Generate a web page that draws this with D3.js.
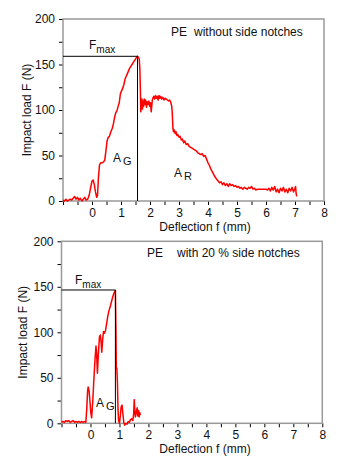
<!DOCTYPE html>
<html><head><meta charset="utf-8">
<script src="https://cdn.jsdelivr.net/npm/d3@7/dist/d3.min.js"></script>
<style>body{margin:0;background:#fff}svg{display:block;font-family:"Liberation Sans",Arial,sans-serif}</style>
</head><body><svg id="c" width="360" height="465"></svg>
<script>
// ---- data ----
const topDefl = [-1.00,-0.95,-0.90,-0.85,-0.80,-0.75,-0.70,-0.65,-0.60,-0.55,-0.50,-0.45,-0.40,-0.35,-0.30,-0.25,-0.20,-0.15,-0.10,-0.05,0.00,0.04,0.08,0.12,0.16,0.19,0.22,0.26,0.30,0.35,0.40,0.44,0.48,0.52,0.56,0.60,0.65,0.70,0.74,0.78,0.82,0.86,0.90,0.94,0.98,1.02,1.06,1.10,1.14,1.18,1.22,1.26,1.30,1.34,1.38,1.42,1.46,1.50,1.54,1.57,1.60,1.63,1.65,1.67,1.68,1.70,1.72,1.74,1.76,1.78,1.80,1.82,1.85,1.88,1.90,1.93,1.96,1.99,2.02,2.04,2.06,2.08,2.10,2.13,2.16,2.19,2.22,2.25,2.28,2.31,2.34,2.37,2.40,2.44,2.48,2.52,2.56,2.60,2.64,2.68,2.72,2.75,2.77,2.79,2.81,2.84,2.87,2.90,2.93,2.96,3.00,3.04,3.08,3.12,3.16,3.20,3.25,3.30,3.35,3.40,3.45,3.50,3.55,3.60,3.65,3.70,3.75,3.80,3.85,3.90,3.95,4.00,4.05,4.10,4.15,4.20,4.25,4.30,4.35,4.40,4.45,4.50,4.55,4.60,4.65,4.70,4.75,4.80,4.85,4.90,4.95,5.00,5.05,5.10,5.15,5.20,5.25,5.30,5.35,5.40,5.45,5.50,5.55,5.60,5.65,5.70,5.80,5.90,6.00,6.05,6.10,6.15,6.20,6.25,6.30,6.35,6.40,6.45,6.50,6.55,6.60,6.65,6.70,6.75,6.80,6.85,6.90,6.95,7.00,7.02,7.04,7.06];
const topLoad = [1,0,2,0,1,2,1,3,5,2,4,1,3,0,2,4,1,2,6,14,22,23,18,10,4,6,25,40,42,42,43,45,55,66,70,71,76,80,85,92,97,99,104,108,118,121,124,128,134,137,140,143,146,148,150,152,154,156,158,159,158,156,145,120,98,105,112,101,110,104,112,106,111,103,109,106,110,104,108,98,104,111,113,115,112,116,113,115,111,116,113,115,112,114,111,113,112,111,110,111,108,104,95,80,76,78,74,76,72,73,70,71,67,68,64,66,62,63,60,59,58,57,56,55,53,52,51,52,49,50,46,42,39,35,32,29,26,24,22,20,21,18,20,17,19,16,19,17,18,16,17,15,16,14,15,13,15,14,13,15,14,16,13,14,12,13,13,13,13,12,14,11,15,12,16,10,13,9,14,11,15,10,13,9,14,11,15,10,14,16,8,5];
const botDefl = [-1.00,-0.95,-0.90,-0.85,-0.80,-0.75,-0.70,-0.65,-0.60,-0.55,-0.50,-0.45,-0.40,-0.35,-0.30,-0.25,-0.20,-0.16,-0.13,-0.10,-0.08,-0.05,-0.02,0.01,0.04,0.08,0.12,0.16,0.19,0.21,0.24,0.27,0.31,0.34,0.37,0.39,0.42,0.45,0.48,0.52,0.56,0.60,0.64,0.68,0.72,0.76,0.80,0.84,0.86,0.88,0.89,0.91,0.93,0.95,0.97,1.00,1.03,1.06,1.09,1.12,1.15,1.18,1.22,1.26,1.30,1.34,1.38,1.42,1.46,1.49,1.51,1.53,1.55,1.58,1.61,1.63,1.66,1.68,1.70,1.72];
const botLoad = [1,2,1,3,2,3,1,2,3,1,2,1,2,1,2,1,2,1,15,35,40,36,25,12,6,25,50,72,85,78,55,75,95,97,88,78,92,101,99,102,110,118,124,128,133,138,142,145,146,100,62,60,45,15,3,0,8,18,20,10,1,-2,0,-1,2,1,4,5,3,10,26,15,7,12,17,8,14,7,12,9];
const xTicks = [-1,-0.5,0,0.5,1,1.5,2,2.5,3,3.5,4,4.5,5,5.5,6,6.5,7,7.5,8];
const yTicks = [0,25,50,75,100,125,150,175,200];
const xLabel = "Deflection f (mm)";
const yLabelTop = "Impact load  F (N)";
const yLabelBot = "Impact load F (N)";
const panels = [
  {defl: topDefl, load: topLoad, fmax: 159, fAt: 1.57, t1: "PE", t2: "without side notches",
   ylab: yLabelTop, areas: [{t:"A", s:"G", x:0.72, y:43}, {t:"A", s:"R", x:2.83, y:26.5}]},
  {defl: botDefl, load: botLoad, fmax: 146.5, fAt: 0.86, t1: "PE", t2: "with 20 % side notches",
   ylab: yLabelBot, areas: [{t:"A", s:"G", x:0.19, y:18}]}
];
// ---- layout ----
const boxes = [
  {l:63, r:324, t:19, b:201, t1x:171, t2x:194, ty:36, ylx:27, xly:231, fmx:89, fmy:48.5},
  {l:61.5, r:322.3, t:241.3, b:423.3, t1x:147, t2x:177, ty:257.3, ylx:23, xly:453, fmx:75, fmy:283.5}
];
const svg = d3.select("#c");
const txt = "#111";
panels.forEach((p, i) => {
  const bx = boxes[i];
  const x = d3.scaleLinear().domain([-1, 8]).range([bx.l, bx.r]);
  const y = d3.scaleLinear().domain([0, 200]).range([bx.b, bx.t]);
  const g = svg.append("g");
  const xa = g.append("g").attr("transform", `translate(0,${bx.b})`)
    .call(d3.axisBottom(x).tickValues(xTicks).tickSize(4).tickPadding(3)
      .tickFormat(d => (Number.isInteger(d) && d >= 0) ? d : ""));
  xa.select(".domain").remove();
  xa.selectAll("text").attr("font-size", 12).attr("fill", txt).attr("font-family", "Liberation Sans, Arial");
  xa.selectAll("line").attr("stroke", "#000");
  const ya = g.append("g").attr("transform", `translate(${bx.l},0)`)
    .call(d3.axisLeft(y).tickValues(yTicks).tickSize(4).tickPadding(4)
      .tickFormat(d => d % 50 === 0 ? d : ""));
  ya.select(".domain").remove();
  ya.selectAll("text").attr("font-size", 12).attr("fill", txt).attr("font-family", "Liberation Sans, Arial");
  ya.selectAll("line").attr("stroke", "#000");
  g.append("rect").attr("x", bx.l).attr("y", bx.t).attr("width", bx.r - bx.l).attr("height", bx.b - bx.t)
    .attr("fill", "none").attr("stroke", "#999").attr("stroke-width", 1.5);
  const data = p.defl.map((d, k) => [d, p.load[k]]);
  g.append("path").datum(data).attr("fill", "none").attr("stroke", "#ff0000").attr("stroke-width", 1.5)
    .attr("stroke-linejoin", "round")
    .attr("d", d3.line().x(d => x(d[0])).y(d => y(d[1])));
  g.append("path").attr("fill", "none").attr("stroke", "#000").attr("stroke-width", 1)
    .attr("d", `M${bx.l},${y(p.fmax)}H${x(p.fAt)}V${bx.b}`);
  const fm = g.append("text").attr("x", bx.fmx).attr("y", bx.fmy).attr("font-size", 12).attr("fill", txt);
  fm.append("tspan").text("F");
  fm.append("tspan").attr("font-size", 10).attr("dy", 4).text("max");
  p.areas.forEach(a => {
    const t = g.append("text").attr("x", x(a.x)).attr("y", y(a.y)).attr("font-size", 12).attr("fill", txt);
    t.append("tspan").text(a.t);
    t.append("tspan").attr("font-size", 11).attr("dx", 2).attr("dy", 3).text(a.s);
  });
  g.append("text").attr("x", bx.t1x).attr("y", bx.ty).attr("font-size", 12).attr("fill", txt).text(p.t1);
  g.append("text").attr("x", bx.t2x).attr("y", bx.ty).attr("font-size", 12).attr("fill", txt).text(p.t2);
  g.append("text").attr("x", 205).attr("y", bx.xly).attr("text-anchor", "middle").attr("font-size", 12)
    .attr("fill", txt).text(xLabel);
  g.append("text").attr("transform", `translate(${bx.ylx},${(bx.t + bx.b) / 2}) rotate(-90)`)
    .attr("text-anchor", "middle").attr("dy", "0.35em").attr("font-size", 12).attr("fill", txt).text(p.ylab);
});
</script></body></html>
